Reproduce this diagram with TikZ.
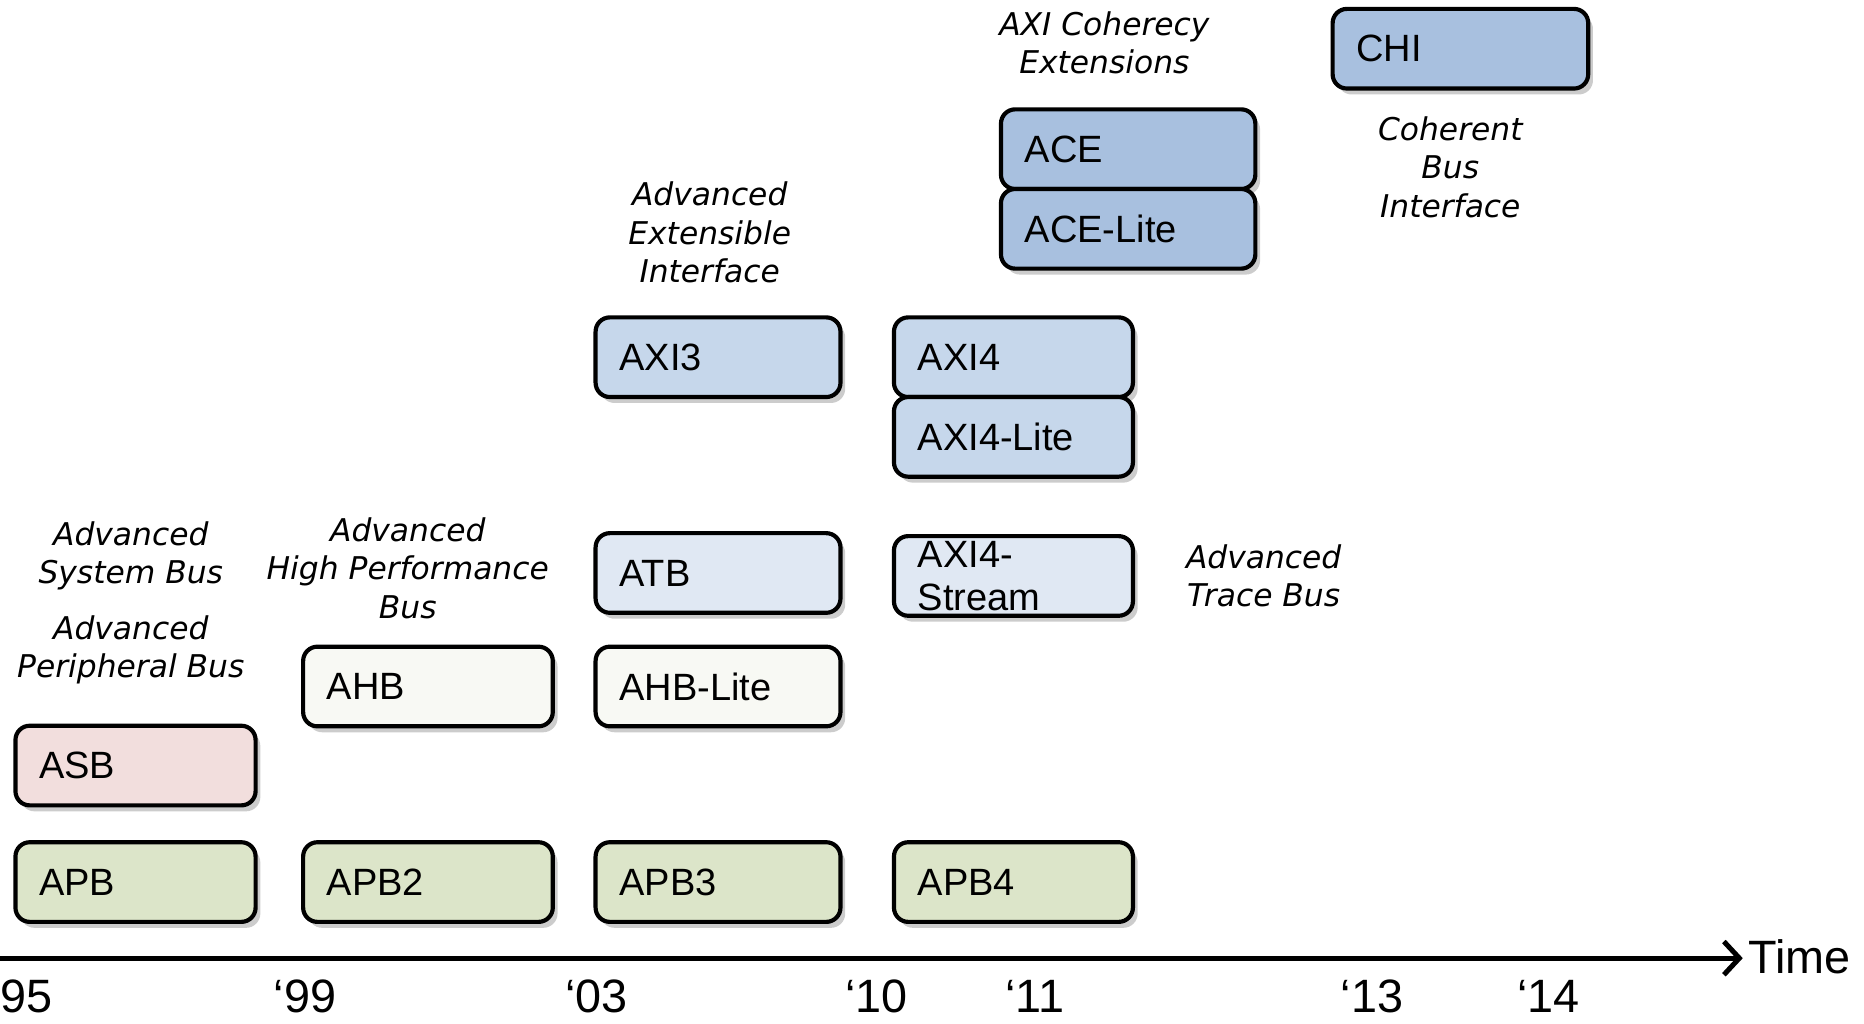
\documentclass[tikz,border=0pt]{standalone}
\usepackage{fontspec}
\setmainfont{Liberation Sans}
\newfontfamily\notefont{DejaVu Sans}
\usetikzlibrary{shadows,arrows.meta}
\definecolor{asbpink}{HTML}{F2DEDD}
\definecolor{apbgreen}{HTML}{DCE5C9}
\definecolor{ahbwhite}{HTML}{F8F9F4}
\definecolor{axiblue}{HTML}{C6D7EB}
\definecolor{atbblue}{HTML}{E0E8F3}
\definecolor{aceblue}{HTML}{A8C0DF}
\tikzset{
	bus/.style={draw=black,line width=1pt,rounded corners=0.12cm,
		drop shadow={shadow xshift=0.04cm,shadow yshift=-0.05cm,opacity=0.4},
		minimum height=0.67cm,inner xsep=0.2cm,inner ysep=0pt,text width=#1,
		align=left,font=\fontsize{9.1}{10.2}\selectfont},
	note/.style={align=center,font=\notefont\itshape\fontsize{7.5}{9.2}\selectfont},
	year/.style={font=\fontsize{11.2}{13}\selectfont}
}

\begin{document}
\begin{tikzpicture}[line cap=round,line join=round,x=1.0cm,y=1.0cm]
	\useasboundingbox (0,0) rectangle (15.68,8.61);
	\node[bus=1.62cm,fill=asbpink] (asb) at (1.14,2.17) {ASB};
	\node[bus=1.62cm,fill=apbgreen] (apb) at (1.14,1.19) {APB};
	\node[bus=1.70cm,fill=ahbwhite] (ahb) at (3.60,2.835) {AHB};
	\node[bus=1.70cm,fill=apbgreen] (apbtwo) at (3.60,1.19) {APB2};
	\node[bus=1.66cm,fill=axiblue] (axithree) at (6.04,5.605) {AXI3};
	\node[bus=1.66cm,fill=atbblue] (atb) at (6.04,3.79) {ATB};
	\node[bus=1.66cm,fill=ahbwhite] (ahblite) at (6.04,2.835) {AHB-Lite};
	\node[bus=1.66cm,fill=apbgreen] (apbthree) at (6.04,1.19) {APB3};
	\node[bus=1.61cm,fill=axiblue] (axifour) at (8.525,5.605) {AXI4};
	\node[bus=1.61cm,fill=axiblue] (axifourlite) at (8.525,4.935) {AXI4-Lite};
	\node[bus=1.61cm,fill=atbblue] (axistream) at (8.525,3.765) {AXI4-\\Stream};
	\node[bus=1.61cm,fill=apbgreen] (apbfour) at (8.525,1.19) {APB4};
	\node[bus=1.74cm,fill=aceblue] (ace) at (9.49,7.355) {ACE};
	\node[bus=1.74cm,fill=aceblue] (acelite) at (9.49,6.685) {ACE-Lite};
	\node[bus=1.75cm,fill=aceblue] (chi) at (12.285,8.20) {CHI};

	\node[note] (asbnote) at (1.10,3.935) {Advanced\\System Bus};
	\node[note] (apbnote) at (1.10,3.145) {Advanced\\Peripheral Bus};
	\node[note] (ahbnote) at (3.43,3.83) {Advanced\\High Performance\\Bus};
	\node[note] (axinote) at (5.97,6.655) {Advanced\\Extensible\\Interface};
	\node[note] (acenote) at (9.29,8.25) {AXI Coherecy\\Extensions};
	\node[note] (chinote) at (12.20,7.205) {Coherent\\Bus\\Interface};
	\node[note] (atbnote) at (10.63,3.765) {Advanced\\Trace Bus};

	\coordinate (start) at (0,0.55);
	\coordinate (tip) at (14.66,0.55);
	\draw[line width=1.2pt,-{Straight Barb[length=0.13cm,width=0.28cm]}] (start) -- (tip);
	\node[year,anchor=west,inner sep=0pt] (time) at (14.70,0.56) {Time};
	\node[year,anchor=west,inner sep=0pt] (y95) at (0,0.23) {95};
	\foreach \x/\yr in {2.565/99,5.02/03,7.375/10,8.705/11,11.54/13,13.025/14}
	\node[year] (y\yr) at (\x,0.23) {‘\yr};
\end{tikzpicture}
\end{document}
